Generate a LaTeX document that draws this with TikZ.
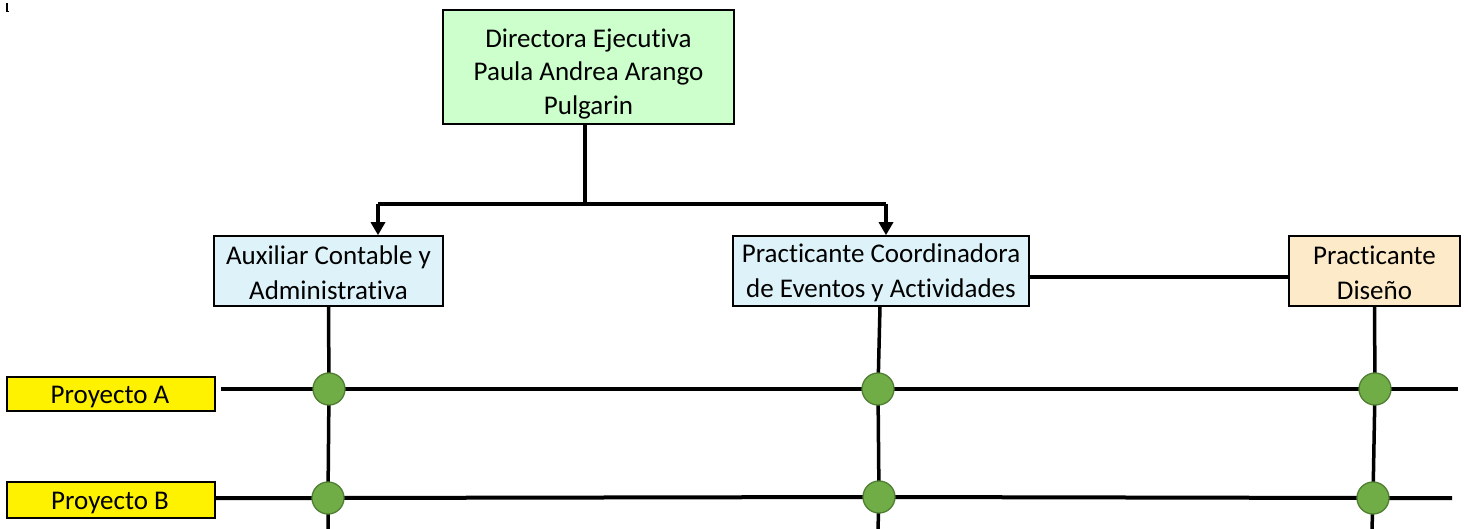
\documentclass[tikz,border=0pt]{standalone}
\usepackage{fontspec}
\setmainfont{Carlito}[Ligatures=NoCommon]
\usetikzlibrary{arrows.meta}
\pgfdeclarelayer{bg}
\pgfsetlayers{bg,main}
\definecolor{dirgreen}{HTML}{CCFFCC}
\definecolor{lightcyan}{HTML}{DDF3F9}
\definecolor{peach}{HTML}{FDEAC9}
\definecolor{dotgreen}{HTML}{70AD47}
\definecolor{dotedge}{HTML}{507E32}
\begin{document}
\begin{tikzpicture}[x=1pt,y=1pt,
  box/.style={draw=black,line width=1.6pt,inner sep=0pt},
  txt/.style={inner sep=0pt,align=center,font=\fontsize{27}{35}\selectfont},
  dtxt/.style={inner sep=0pt,align=center,font=\fontsize{27}{33.5}\selectfont},
  dot/.style={circle,draw=dotedge,line width=1.3pt,fill=dotgreen,minimum size=32pt,inner sep=0pt},
  conn/.style={line width=4pt},
  vline/.style={line width=3.5pt},
  arr/.style={line width=4pt,-{Triangle[width=14pt,length=13pt]}}]
\useasboundingbox (0,0) rectangle (1468,-529);
% top-left mark
\draw[line width=1.6pt] (7,-3) -- (7,-11.5) -- (9,-11.5);
% boxes
\node[box,fill=dirgreen,minimum width=291pt,minimum height=114pt] (dir) at (588.5,-67) {};
\node[dtxt] (dirt) at (588.5,-74) {Directora Ejecutiva\\Paula Andrea Arango\\Pulgarin};
\node[box,fill=lightcyan,minimum width=229pt,minimum height=70pt] (aux) at (328.5,-271) {};
\node[txt] (auxt) at (328.5,-273) {Auxiliar Contable y\\Administrativa};
\node[box,fill=lightcyan,minimum width=296pt,minimum height=70pt] (coord) at (881,-271) {};
\node[txt] (coordt) at (881,-273) {Practicante Coordinadora\\de Eventos y Actividades};
\node[box,fill=peach,minimum width=171pt,minimum height=70pt] (dis) at (1374.5,-271) {};
\node[txt] (dist) at (1374.5,-273) {Practicante\\Diseño};
\node[box,fill=yellow,minimum width=208pt,minimum height=34pt] (pa) at (111,-394) {};
\node[txt] (pat) at (110,-397) {Proyecto A};
\node[box,fill=yellow,minimum width=208pt,minimum height=36pt] (pb) at (111,-500) {};
\node[txt] (pbt) at (110,-503) {Proyecto B};
% dots
\node[dot] (a1) at (329,-389) {};
\node[dot] (a2) at (878,-389) {};
\node[dot] (a3) at (1375,-389) {};
\node[dot] (b1) at (328,-498) {};
\node[dot] (b2) at (879,-497) {};
\node[dot] (b3) at (1373,-498) {};
\coordinate (busL) at (378,-204);
\coordinate (busR) at (886,-204);
\coordinate (endA) at (1458,-389);
\coordinate (endB) at (1452,-498);
\coordinate (botA) at (328,-529);
\coordinate (botB) at (878,-529);
\coordinate (botC) at (1372,-529);
\begin{pgfonlayer}{bg}
\draw[conn] ([xshift=-3.5pt]dir.south) -- ([xshift=-3.5pt]dir.south |- busL);
\draw[conn] (busL) -- (busR);
\draw[arr] (busL) -- (busL |- aux.north);
\draw[arr] (busR) -- (busR |- coord.north);
\draw[vline] ([yshift=-6pt]coord.east) -- ([yshift=-6pt]dis.west);
\draw[conn] ([xshift=5pt]pa.east |- a1) -- (a1.center) -- (a2.center) -- (a3.center) -- (endA);
\draw[conn] (pb.east |- b1) -- (b1.center) -- (b2.center) -- (b3.center) -- (endB);
\draw[vline] (aux.south) -- (a1.center) -- (b1.center) -- (botA);
\draw[vline] ([xshift=-1pt]coord.south) -- (a2.center) -- (b2.center) -- (botB);
\draw[vline] (dis.south) -- (a3.center) -- (b3.center) -- (botC);
\end{pgfonlayer}
\end{tikzpicture}
\end{document}
